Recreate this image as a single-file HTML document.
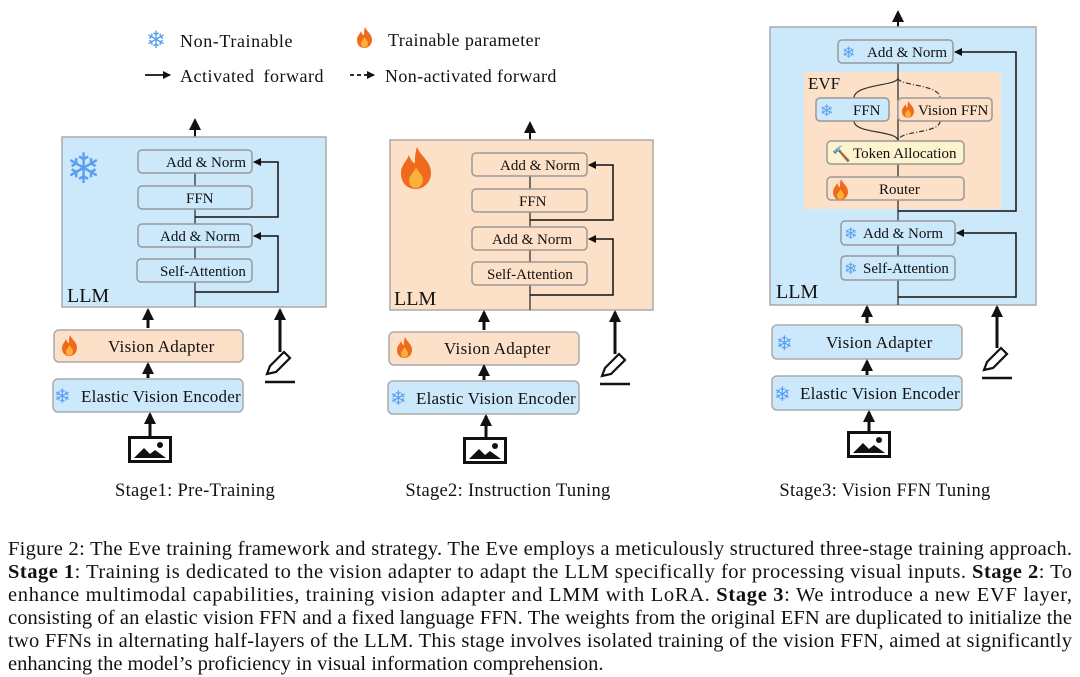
<!DOCTYPE html>
<html><head><meta charset="utf-8"><style>
html,body{margin:0;padding:0;background:#fff;}
svg{display:block;}
text{font-family:"Liberation Serif",serif;fill:#111;}
.b{font-size:15px;}
</style></head><body>
<svg width="1080" height="677" viewBox="0 0 1080 677" xmlns="http://www.w3.org/2000/svg">
<defs>
<marker id="ah" markerWidth="8" markerHeight="8" refX="7" refY="4" orient="auto" markerUnits="userSpaceOnUse"><path d="M0,0 L8,4 L0,8 z" fill="#111"/></marker>
<marker id="ahb" markerWidth="12" markerHeight="12" refX="10" refY="6" orient="auto" markerUnits="userSpaceOnUse"><path d="M0,0 L12,6 L0,12 z" fill="#111"/></marker>
<g id="fire"><path d="M8,0 C10,5 15,7 15,13 C15,18 11,21 7.5,21 C3,21 0,18 0,13 C0,9 3,7 4,4 C5,7 6,8 7,8 C7,5 7,3 8,0z" fill="#f06a1c"/><path d="M7.5,10 C9,13 11,14 11,16.5 C11,19 9,20.5 7.5,20.5 C5.5,20.5 4,19 4,16.5 C4,14 6.5,13 7.5,10z" fill="#fbb03b"/></g>
<g id="img"><rect x="1.5" y="1.5" width="41" height="24" fill="#fff" stroke="#111" stroke-width="3"/><path d="M6,22 L16,12 L22,18 L27,14 L38,22z" fill="#111"/><circle cx="32" cy="9" r="3" fill="#111"/></g>
<g id="pen"><path d="M2,22 L5,14 L19,0 L25,6 L11,20 z" fill="#fff" stroke="#111" stroke-width="2.2"/><line x1="0" y1="30" x2="30" y2="30" stroke="#111" stroke-width="2.5"/></g>
</defs>

<!-- Legend -->
<text x="146" y="48" font-size="24" style="fill:#5aa0ef">❄</text>
<text x="180" y="47" font-size="18" letter-spacing="0.6">Non-Trainable</text>
<use href="#fire" x="357" y="27"/>
<text x="388" y="46" font-size="18" letter-spacing="0.4">Trainable parameter</text>
<line x1="145" y1="75" x2="170" y2="75" stroke="#111" stroke-width="1.8" marker-end="url(#ah)"/>
<text x="180" y="82" font-size="18" letter-spacing="0.5" word-spacing="4">Activated forward</text>
<line x1="350" y1="75" x2="374" y2="75" stroke="#111" stroke-width="1.8" stroke-dasharray="4,3" marker-end="url(#ah)"/>
<text x="385" y="82" font-size="18" letter-spacing="0.4">Non-activated forward</text>

<!-- Stage 1 -->
<g stroke-width="1.5">
<line x1="195" y1="137" x2="195" y2="120" stroke="#111" stroke-width="2" marker-end="url(#ahb)"/>
<rect x="62" y="137" width="264" height="170" fill="#cce9fb" stroke="#aaa"/>
<line x1="195" y1="150" x2="195" y2="307" stroke="#333" stroke-width="1.3"/>
<rect x="138" y="150" width="114" height="23" rx="4" fill="#cce9fb" stroke="#999"/>
<rect x="138" y="186" width="114" height="23" rx="4" fill="#cce9fb" stroke="#999"/>
<rect x="138" y="224" width="114" height="23" rx="4" fill="#cce9fb" stroke="#999"/>
<rect x="137" y="259" width="115" height="23" rx="4" fill="#cce9fb" stroke="#999"/>
<polyline points="195,217 278,217 278,162 254,162" fill="none" stroke="#111" stroke-width="1.5" marker-end="url(#ah)"/>
<polyline points="195,292 278,292 278,236 254,236" fill="none" stroke="#111" stroke-width="1.5" marker-end="url(#ah)"/>
</g>
<text x="66" y="183" font-size="42" style="fill:#5aa0ef">❄</text>
<text x="166" y="167" class="b">Add &amp; Norm</text>
<text x="186" y="203" class="b">FFN</text>
<text x="160" y="241" class="b">Add &amp; Norm</text>
<text x="160" y="276" class="b">Self-Attention</text>
<text x="67" y="302" font-size="20">LLM</text>
<line x1="148" y1="328" x2="148" y2="310" stroke="#111" stroke-width="3" marker-end="url(#ahb)"/>
<rect x="54" y="330" width="189" height="32" rx="5" fill="#fde0c8" stroke="#aaa" stroke-width="1.5"/>
<use href="#fire" x="62" y="335"/>
<text x="108" y="352" font-size="17" letter-spacing="0.3">Vision  Adapter</text>
<line x1="148" y1="378" x2="148" y2="364" stroke="#111" stroke-width="3" marker-end="url(#ahb)"/>
<rect x="53" y="379" width="190" height="33" rx="5" fill="#cce9fb" stroke="#aaa" stroke-width="1.5"/>
<text x="54" y="403" font-size="20" style="fill:#5aa0ef">❄</text>
<text x="81" y="402" font-size="17" letter-spacing="0.2">Elastic Vision Encoder</text>
<line x1="150" y1="436" x2="150" y2="414" stroke="#111" stroke-width="3" marker-end="url(#ahb)"/>
<use href="#img" x="128" y="436"/>
<line x1="280" y1="352" x2="280" y2="310" stroke="#111" stroke-width="3" marker-end="url(#ahb)"/>
<use href="#pen" x="265" y="352"/>
<text x="195" y="496" font-size="18.5" text-anchor="middle" letter-spacing="0.3">Stage1: Pre-Training</text>

<!-- Stage 2 -->
<g stroke-width="1.5">
<line x1="530" y1="140" x2="530" y2="123" stroke="#111" stroke-width="2" marker-end="url(#ahb)"/>
<rect x="390" y="140" width="263" height="170" fill="#fde0c8" stroke="#aaa"/>
<line x1="530" y1="153" x2="530" y2="310" stroke="#333" stroke-width="1.3"/>
<rect x="472" y="153" width="115" height="23" rx="4" fill="#fde0c8" stroke="#999"/>
<rect x="472" y="189" width="115" height="23" rx="4" fill="#fde0c8" stroke="#999"/>
<rect x="472" y="227" width="115" height="23" rx="4" fill="#fde0c8" stroke="#999"/>
<rect x="472" y="262" width="115" height="23" rx="4" fill="#fde0c8" stroke="#999"/>
<polyline points="530,220 613,220 613,165 589,165" fill="none" stroke="#111" stroke-width="1.5" marker-end="url(#ah)"/>
<polyline points="530,295 613,295 613,239 589,239" fill="none" stroke="#111" stroke-width="1.5" marker-end="url(#ah)"/>
</g>
<g transform="translate(401,147) scale(2)"><use href="#fire"/></g>
<text x="500" y="170" class="b">Add &amp; Norm</text>
<text x="519" y="206" class="b">FFN</text>
<text x="492" y="244" class="b">Add &amp; Norm</text>
<text x="487" y="279" class="b">Self-Attention</text>
<text x="394" y="305" font-size="20">LLM</text>
<line x1="484" y1="330" x2="484" y2="312" stroke="#111" stroke-width="3" marker-end="url(#ahb)"/>
<rect x="389" y="332" width="190" height="33" rx="5" fill="#fde0c8" stroke="#aaa" stroke-width="1.5"/>
<use href="#fire" x="397" y="337"/>
<text x="444" y="354" font-size="17" letter-spacing="0.3">Vision  Adapter</text>
<line x1="484" y1="380" x2="484" y2="366" stroke="#111" stroke-width="3" marker-end="url(#ahb)"/>
<rect x="388" y="381" width="191" height="33" rx="5" fill="#cce9fb" stroke="#aaa" stroke-width="1.5"/>
<text x="390" y="405" font-size="20" style="fill:#5aa0ef">❄</text>
<text x="416" y="404" font-size="17" letter-spacing="0.2">Elastic Vision Encoder</text>
<line x1="486" y1="437" x2="486" y2="416" stroke="#111" stroke-width="3" marker-end="url(#ahb)"/>
<use href="#img" x="463" y="437"/>
<line x1="615" y1="354" x2="615" y2="312" stroke="#111" stroke-width="3" marker-end="url(#ahb)"/>
<use href="#pen" x="600" y="354"/>
<text x="508" y="496" font-size="18.5" text-anchor="middle" letter-spacing="0.3">Stage2: Instruction Tuning</text>

<!-- Stage 3 -->
<g stroke-width="1.5">
<line x1="898" y1="27" x2="898" y2="12" stroke="#111" stroke-width="2" marker-end="url(#ahb)"/>
<rect x="770" y="27" width="266" height="278" fill="#cce9fb" stroke="#aaa"/>
<rect x="804" y="72" width="197" height="137" fill="#fde0c8" stroke="none"/>
<line x1="898" y1="40" x2="898" y2="305" stroke="#333" stroke-width="1.3"/>
<rect x="838" y="40" width="115" height="23" rx="4" fill="#cce9fb" stroke="#999"/>
<path d="M898,78 C898,86 854,84 854,98" fill="none" stroke="#333" stroke-width="1.2"/>
<path d="M898,78 C898,86 940,84 940,98" fill="none" stroke="#333" stroke-width="1.2" stroke-dasharray="5,2,1,2"/>
<path d="M854,121 C854,134 898,130 898,141" fill="none" stroke="#333" stroke-width="1.2"/>
<path d="M940,121 C940,134 898,130 898,141" fill="none" stroke="#333" stroke-width="1.2" stroke-dasharray="5,2,1,2"/>
<rect x="816" y="98" width="73" height="23" rx="4" fill="#cce9fb" stroke="#999"/>
<rect x="898" y="98" width="94" height="23" rx="4" fill="#fde0c8" stroke="#999"/>
<rect x="827" y="141" width="137" height="23" rx="4" fill="#fdf3cf" stroke="#999"/>
<rect x="827" y="177" width="137" height="23" rx="4" fill="#fde0c8" stroke="#999"/>
<rect x="841" y="221" width="114" height="24" rx="4" fill="#cce9fb" stroke="#999"/>
<rect x="841" y="256" width="114" height="24" rx="4" fill="#cce9fb" stroke="#999"/>
<polyline points="898,211 1016,211 1016,52 955,52" fill="none" stroke="#111" stroke-width="1.5" marker-end="url(#ah)"/>
<polyline points="898,297 1016,297 1016,233 957,233" fill="none" stroke="#111" stroke-width="1.5" marker-end="url(#ah)"/>
</g>
<text x="842" y="58" font-size="16" style="fill:#5aa0ef">❄</text>
<text x="867" y="57" class="b">Add &amp; Norm</text>
<text x="808" y="89" font-size="17">EVF</text>
<text x="820" y="116" font-size="16" style="fill:#5aa0ef">❄</text>
<text x="853" y="115" class="b">FFN</text>
<g transform="translate(902,101) scale(0.8)"><use href="#fire"/></g>
<text x="918" y="115" class="b">Vision FFN</text>
<text x="832" y="159" font-size="15">🔨</text>
<text x="853" y="158" class="b">Token Allocation</text>
<use href="#fire" x="833" y="179"/>
<text x="879" y="194" class="b">Router</text>
<text x="844" y="239" font-size="16" style="fill:#5aa0ef">❄</text>
<text x="863" y="238" class="b">Add &amp; Norm</text>
<text x="844" y="274" font-size="16" style="fill:#5aa0ef">❄</text>
<text x="863" y="273" class="b">Self-Attention</text>
<text x="776" y="298" font-size="20">LLM</text>
<line x1="867" y1="323" x2="867" y2="307" stroke="#111" stroke-width="3" marker-end="url(#ahb)"/>
<rect x="772" y="325" width="190" height="34" rx="5" fill="#cce9fb" stroke="#aaa" stroke-width="1.5"/>
<text x="776" y="350" font-size="20" style="fill:#5aa0ef">❄</text>
<text x="826" y="348" font-size="17" letter-spacing="0.3">Vision  Adapter</text>
<line x1="867" y1="375" x2="867" y2="361" stroke="#111" stroke-width="3" marker-end="url(#ahb)"/>
<rect x="772" y="376" width="190" height="34" rx="5" fill="#cce9fb" stroke="#aaa" stroke-width="1.5"/>
<text x="774" y="401" font-size="20" style="fill:#5aa0ef">❄</text>
<text x="800" y="399" font-size="17" letter-spacing="0.2">Elastic Vision Encoder</text>
<line x1="869" y1="431" x2="869" y2="412" stroke="#111" stroke-width="3" marker-end="url(#ahb)"/>
<use href="#img" x="847" y="431"/>
<line x1="997" y1="348" x2="997" y2="307" stroke="#111" stroke-width="3" marker-end="url(#ahb)"/>
<use href="#pen" x="982" y="348"/>
<text x="885" y="496" font-size="18.5" text-anchor="middle" letter-spacing="0.3">Stage3: Vision FFN Tuning</text>

<!-- Caption -->
<g font-size="20.5">
<text x="8" y="555" textLength="1064" lengthAdjust="spacing">Figure 2: The Eve training framework and strategy. The Eve employs a meticulously structured three-stage training approach.</text>
<text x="8" y="578" textLength="1064" lengthAdjust="spacing"><tspan font-weight="bold">Stage 1</tspan>: Training is dedicated to the vision adapter to adapt the LLM specifically for processing visual inputs. <tspan font-weight="bold">Stage 2</tspan>: To</text>
<text x="8" y="601" textLength="1064" lengthAdjust="spacing">enhance multimodal capabilities, training vision adapter and LMM with LoRA. <tspan font-weight="bold">Stage 3</tspan>: We introduce a new EVF layer,</text>
<text x="8" y="624" textLength="1064" lengthAdjust="spacing">consisting of an elastic vision FFN and a fixed language FFN. The weights from the original EFN are duplicated to initialize the</text>
<text x="8" y="647" textLength="1064" lengthAdjust="spacing">two FFNs in alternating half-layers of the LLM. This stage involves isolated training of the vision FFN, aimed at significantly</text>
<text x="8" y="670">enhancing the model’s proficiency in visual information comprehension.</text>
</g>
</svg>
</body></html>
